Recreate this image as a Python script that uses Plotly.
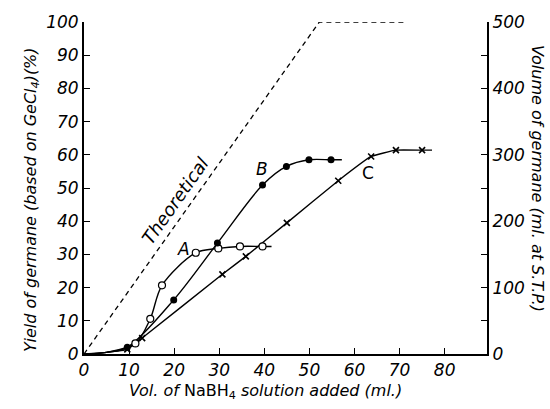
import plotly.graph_objects as go

# ---- data ----
theo_x = [0, 52.2, 71]
theo_y = [0, 100, 100]

A_line_x = [0, 5, 11.4, 14.7, 17.3, 24.8, 29.8, 34.6, 39.6, 41.6]
A_line_y = [0, 0.5, 3.2, 10.6, 20.7, 30.5, 31.8, 32.4, 32.4, 32.4]
A_pts_x = [11.4, 14.7, 17.3, 24.8, 29.8, 34.6, 39.6]
A_pts_y = [3.2, 10.6, 20.7, 30.5, 31.8, 32.4, 32.4]

B_line_x = [0, 5, 9.6, 19.9, 29.6, 39.6, 44.9, 49.9, 54.8, 57.2]
B_line_y = [0, 0.5, 2.0, 16.3, 33.4, 50.9, 56.5, 58.5, 58.5, 58.5]
B_pts_x = [9.6, 19.9, 29.6, 39.6, 44.9, 49.9, 54.8]
B_pts_y = [2.0, 16.3, 33.4, 50.9, 56.5, 58.5, 58.5]

C_line_x = [0, 5, 9.6, 12.9, 30.7, 35.9, 45.0, 56.4, 63.7, 69.2, 75.0, 77.2]
C_line_y = [0, 0.5, 1.4, 4.8, 24.0, 29.4, 39.5, 52.2, 59.5, 61.4, 61.4, 61.4]
C_pts_x = [9.6, 12.9, 30.7, 35.9, 45.0, 56.4, 63.7, 69.2, 75.0]
C_pts_y = [1.4, 4.8, 24.0, 29.4, 39.5, 52.2, 59.5, 61.4, 61.4]

x_ticks = [0, 10, 20, 30, 40, 50, 60, 70, 80]
y_ticks = [0, 10, 20, 30, 40, 50, 60, 70, 80, 90, 100]
y2_ticks = [0, 100, 200, 300, 400, 500]

FONT = "DejaVu Sans"
fig = go.Figure()

fig.add_trace(go.Scatter(x=theo_x, y=theo_y, mode="lines",
                         line=dict(color="black", width=1.3, dash="5px,4px"), showlegend=False))
for lx, ly in [(A_line_x, A_line_y), (B_line_x, B_line_y)]:
    fig.add_trace(go.Scatter(x=lx, y=ly, mode="lines",
                             line=dict(color="black", width=1.4, shape="spline", smoothing=0.9),
                             showlegend=False))
fig.add_trace(go.Scatter(x=C_line_x, y=C_line_y, mode="lines",
                         line=dict(color="black", width=1.4, shape="spline", smoothing=0.3),
                         showlegend=False))
fig.add_trace(go.Scatter(x=A_pts_x, y=A_pts_y, mode="markers",
                         marker=dict(symbol="circle", size=7, color="white",
                                     line=dict(color="black", width=1.2)), showlegend=False))
fig.add_trace(go.Scatter(x=B_pts_x, y=B_pts_y, mode="markers",
                         marker=dict(symbol="circle", size=7, color="black"), showlegend=False))
fig.add_trace(go.Scatter(x=C_pts_x, y=C_pts_y, mode="markers",
                         marker=dict(symbol="x-thin", size=6, color="black",
                                     line=dict(color="black", width=1.6)), showlegend=False))
fig.add_trace(go.Scatter(x=[], y=[], yaxis="y2", showlegend=False))

tickfont = dict(family=FONT, size=17, color="black", style="italic")

fig.update_layout(
    width=550, height=409,
    margin=dict(l=84, r=63, t=15, b=55),
    paper_bgcolor="white", plot_bgcolor="white",
    xaxis=dict(range=[0, 89.4], tickvals=x_ticks, ticks="inside", ticklen=6, tickwidth=1.2,
               tickcolor="black", showline=True, linecolor="black", linewidth=2,
               showgrid=False, zeroline=False, tickfont=tickfont),
    yaxis=dict(range=[0, 100], tickvals=y_ticks, ticks="inside", ticklen=6, tickwidth=1.2,
               tickcolor="black", showline=True, linecolor="black", linewidth=2,
               showgrid=False, zeroline=False, tickfont=tickfont),
    yaxis2=dict(range=[0, 500], overlaying="y", side="right", tickvals=y2_ticks,
                ticks="inside", ticklen=6, tickwidth=1.2, tickcolor="black",
                minor=dict(dtick=50, ticks="inside", ticklen=6, tickcolor="black", showgrid=False),
                showline=True, linecolor="black", linewidth=2, showgrid=False,
                zeroline=False, tickfont=tickfont),
)

ann_font = dict(family=FONT, size=17, color="black")
fig.add_annotation(x=20.3, y=46.1, text="<i>Theoretical</i>", textangle=-55, showarrow=False,
                   font=dict(family=FONT, size=18, color="black"))
fig.add_annotation(x=22.0, y=31.6, text="<i>A</i>", showarrow=False, font=ann_font)
fig.add_annotation(x=39.5, y=55.8, text="<i>B</i>", showarrow=False, font=ann_font)
fig.add_annotation(x=63.0, y=54.4, text="C", showarrow=False, font=ann_font)

fig.add_annotation(xref="paper", yref="paper", x=0, y=0.5, xshift=-53, yshift=-12,
                   xanchor="center", yanchor="middle",
                   text="<i>Yield of germane (based on GeCl<sub>4</sub>)(%)</i>",
                   textangle=-90, showarrow=False, font=dict(family=FONT, size=16, color="black"))
fig.add_annotation(xref="paper", yref="paper", x=1, y=0.5, xshift=51, yshift=10,
                   xanchor="center", yanchor="middle",
                   text="<i>Volume of germane (ml. at S.T.P.)</i>",
                   textangle=90, showarrow=False, font=dict(family=FONT, size=16, color="black"))
fig.add_annotation(xref="paper", yref="paper", x=0.45, y=0, yshift=-37,
                   xanchor="center", yanchor="middle",
                   text="<i>Vol. of </i>NaBH<sub>4</sub><i> solution added (ml.)</i>",
                   showarrow=False, font=dict(family=FONT, size=16, color="black"))

fig.write_html("out.html")
